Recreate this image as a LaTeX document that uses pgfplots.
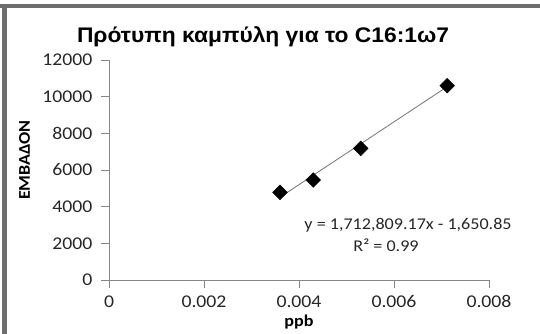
\documentclass[border=0pt]{standalone}
\usepackage{fontspec}
\setmainfont{Carlito}[FakeStretch=1.1]
\newfontfamily\titlefont{Liberation Sans}[FakeStretch=1.08]
\usepackage{pgfplots}
\pgfplotsset{compat=1.18}
\definecolor{axisgray}{HTML}{868686}
\definecolor{framegray}{HTML}{6E6E6E}
\definecolor{txt}{HTML}{262626}
\begin{document}
\begin{tikzpicture}
\useasboundingbox (0,0) rectangle (540bp,334bp);
\fill[framegray] (2bp,0) rectangle (7bp,330bp);
\fill[framegray] (0,326bp) rectangle (540bp,330bp);
\begin{axis}[
  at={(109bp,54bp)}, anchor=south west,
  scale only axis, width=380bp, height=220bp,
  xmin=0, xmax=0.008, ymin=0, ymax=12000,
  axis x line*=bottom, axis y line*=left,
  axis line style={draw=axisgray, line width=0.8bp},
  every tick/.style={draw=axisgray, line width=0.8bp},
  tick align=outside, major tick length=8bp,
  xtick={0,0.002,0.004,0.006,0.008},
  xticklabels={0,0.002,0.004,0.006,0.008},
  ytick={0,2000,4000,6000,8000,10000,12000},
  yticklabels={0,2000,4000,6000,8000,10000,12000},
  scaled ticks=false,
  /pgf/number format/assume math mode=true,
  ticklabel style={font=\fontsize{18}{18}\selectfont, text=txt},
  xticklabel style={yshift=-4bp},
  yticklabel style={xshift=-5bp},
  xlabel={\textbf{ppb}},
  ylabel={\textbf{ΕΜΒΑΔΟΝ}},
  label style={font=\fontsize{16.5}{16.5}\selectfont, text=black},
  xlabel style={at={(axis description cs:0.5,-0.19)}, anchor=center},
  ylabel style={at={(axis description cs:-0.222,0.545)}, anchor=center},
  clip=false,
]
\addplot[draw=black!55, line width=0.8bp, no marks] coordinates {(0.0036,4515.3) (0.00712,10544.3)};
\addplot[only marks, mark=square*, mark size=5.2bp, mark options={rotate=45, fill=black, draw=black}]
  coordinates {(0.0036,4780) (0.0043,5450) (0.0053,7180) (0.00712,10600)};
\node[font=\fontsize{16.5}{16.5}\selectfont, text=txt, anchor=center] at (axis cs:0.006295,3000) {y = 1,712,809.17x - 1,650.85};
\node[font=\fontsize{16.5}{16.5}\selectfont, text=txt, anchor=center] at (axis cs:0.005832,1909) {R² = 0.99};
\end{axis}
\node[font=\titlefont\bfseries\fontsize{21.2}{21.2}\selectfont, anchor=base] at (263bp,291bp) {Πρότυπη καμπύλη για το C16:1ω7};
\end{tikzpicture}
\end{document}
